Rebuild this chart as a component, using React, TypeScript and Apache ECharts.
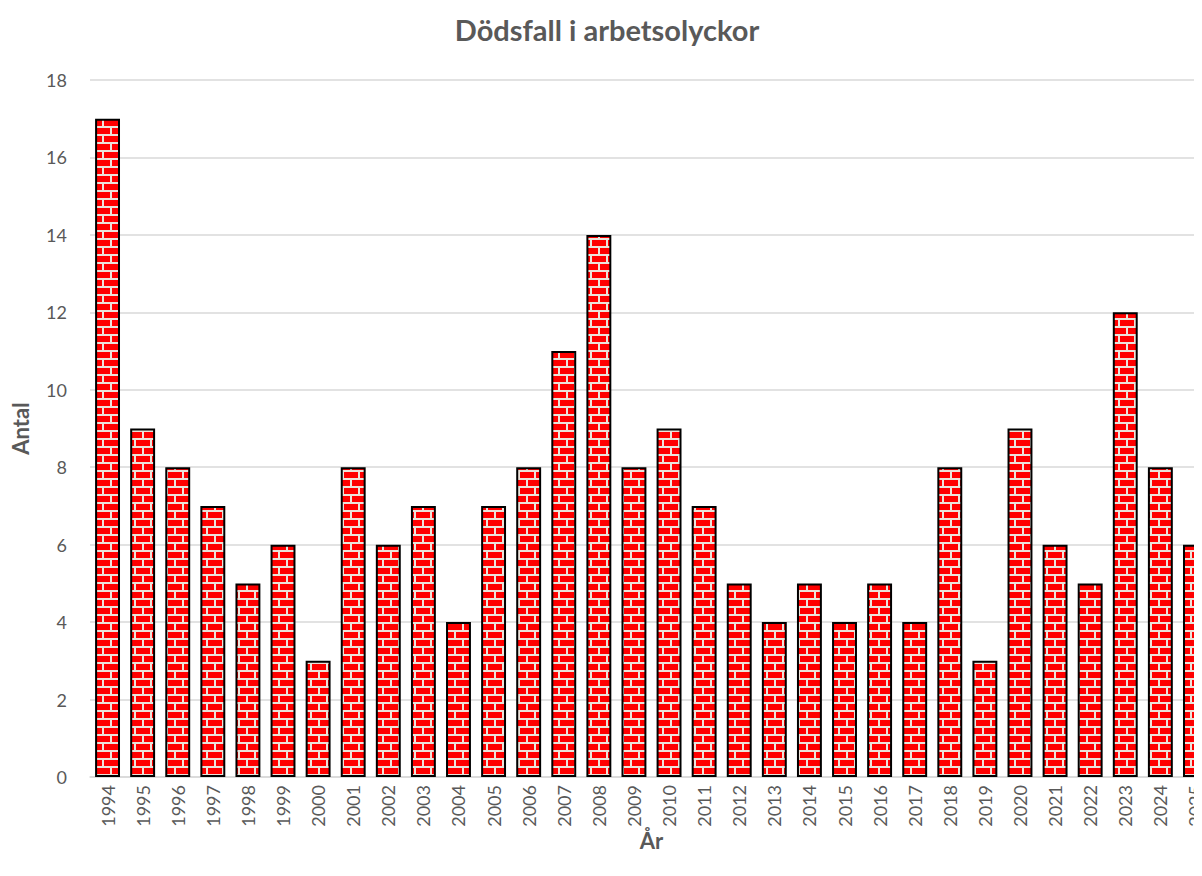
import React, { useEffect, useRef } from "react";
import * as echarts from "echarts";

const years = [
  "1994", "1995", "1996", "1997", "1998", "1999", "2000", "2001", "2002", "2003",
  "2004", "2005", "2006", "2007", "2008", "2009", "2010", "2011", "2012", "2013",
  "2014", "2015", "2016", "2017", "2018", "2019", "2020", "2021", "2022", "2023",
  "2024", "2025",
];
const deaths = [
  17, 9, 8, 7, 5, 6, 3, 8, 6, 7,
  4, 7, 8, 11, 14, 8, 9, 7, 5, 4,
  5, 4, 5, 4, 8, 3, 9, 6, 5, 12,
  8, 6,
];
const yTicks = [0, 2, 4, 6, 8, 10, 12, 14, 16, 18];

function makeBrick(): HTMLCanvasElement {
  const c = document.createElement("canvas");
  c.width = 16;
  c.height = 16;
  const ctx = c.getContext("2d")!;
  ctx.fillStyle = "#ece3da";
  ctx.fillRect(0, 0, 16, 16);
  ctx.fillStyle = "#ff0000";
  ctx.fillRect(0, 0, 14, 6);
  ctx.fillRect(0, 8, 6, 6);
  ctx.fillRect(8, 8, 8, 6);
  return c;
}

export default function App() {
  const ref = useRef<HTMLDivElement>(null);
  useEffect(() => {
    if (!ref.current) return;
    const chart = echarts.init(ref.current, undefined, { renderer: "svg" });
    const brick = makeBrick();
    const font = "Lato, 'Open Sans', sans-serif";
    chart.setOption({
      animation: false,
      backgroundColor: "#ffffff",
      title: {
        text: "Dödsfall i arbetsolyckor",
        left: 602,
        textAlign: "center",
        top: 10,
        textStyle: { fontFamily: font, fontSize: 29, fontWeight: "bold", color: "#595959" },
      },
      grid: { left: 90, top: 80, bottom: 99, width: 1123, containLabel: false },
      xAxis: {
        type: "category",
        data: years,
        name: "År",
        nameLocation: "middle",
        nameGap: 52,
        nameMoveOverlap: false,
        nameTextStyle: { fontFamily: font, fontSize: 22, fontWeight: "bold", color: "#595959" },
        axisLine: { lineStyle: { color: "#d9d9d9", width: 1.5 } },
        axisTick: { show: false },
        axisLabel: {
          rotate: 90,
          margin: 8,
          fontFamily: font,
          fontSize: 18,
          color: "#595959",
        },
      },
      yAxis: {
        type: "value",
        min: 0,
        max: 18,
        interval: 2,
        name: "Antal",
        nameLocation: "middle",
        nameGap: 59,
        nameMoveOverlap: false,
        nameTextStyle: { fontFamily: font, fontSize: 22, fontWeight: "bold", color: "#595959" },
        axisLine: { show: false },
        axisTick: { show: false },
        axisLabel: {
          margin: 23,
          fontFamily: font,
          fontSize: 18,
          color: "#595959",
          formatter: (v: number) => (yTicks.includes(v) ? String(v) : ""),
        },
        splitLine: { lineStyle: { color: "#d9d9d9", width: 1.5 } },
      },
      series: [
        {
          type: "bar",
          data: deaths,
          barCategoryGap: "29%",
          itemStyle: {
            color: { image: brick, repeat: "repeat" },
            borderColor: "#000000",
            borderWidth: 2,
          },
        },
      ],
    });
    return () => chart.dispose();
  }, []);
  return (
    <div style={{ width: 1202, height: 876, margin: -8, overflow: "hidden", position: "relative" }}>
      <div ref={ref} style={{ width: 1230, height: 876 }} />
    </div>
  );
}
